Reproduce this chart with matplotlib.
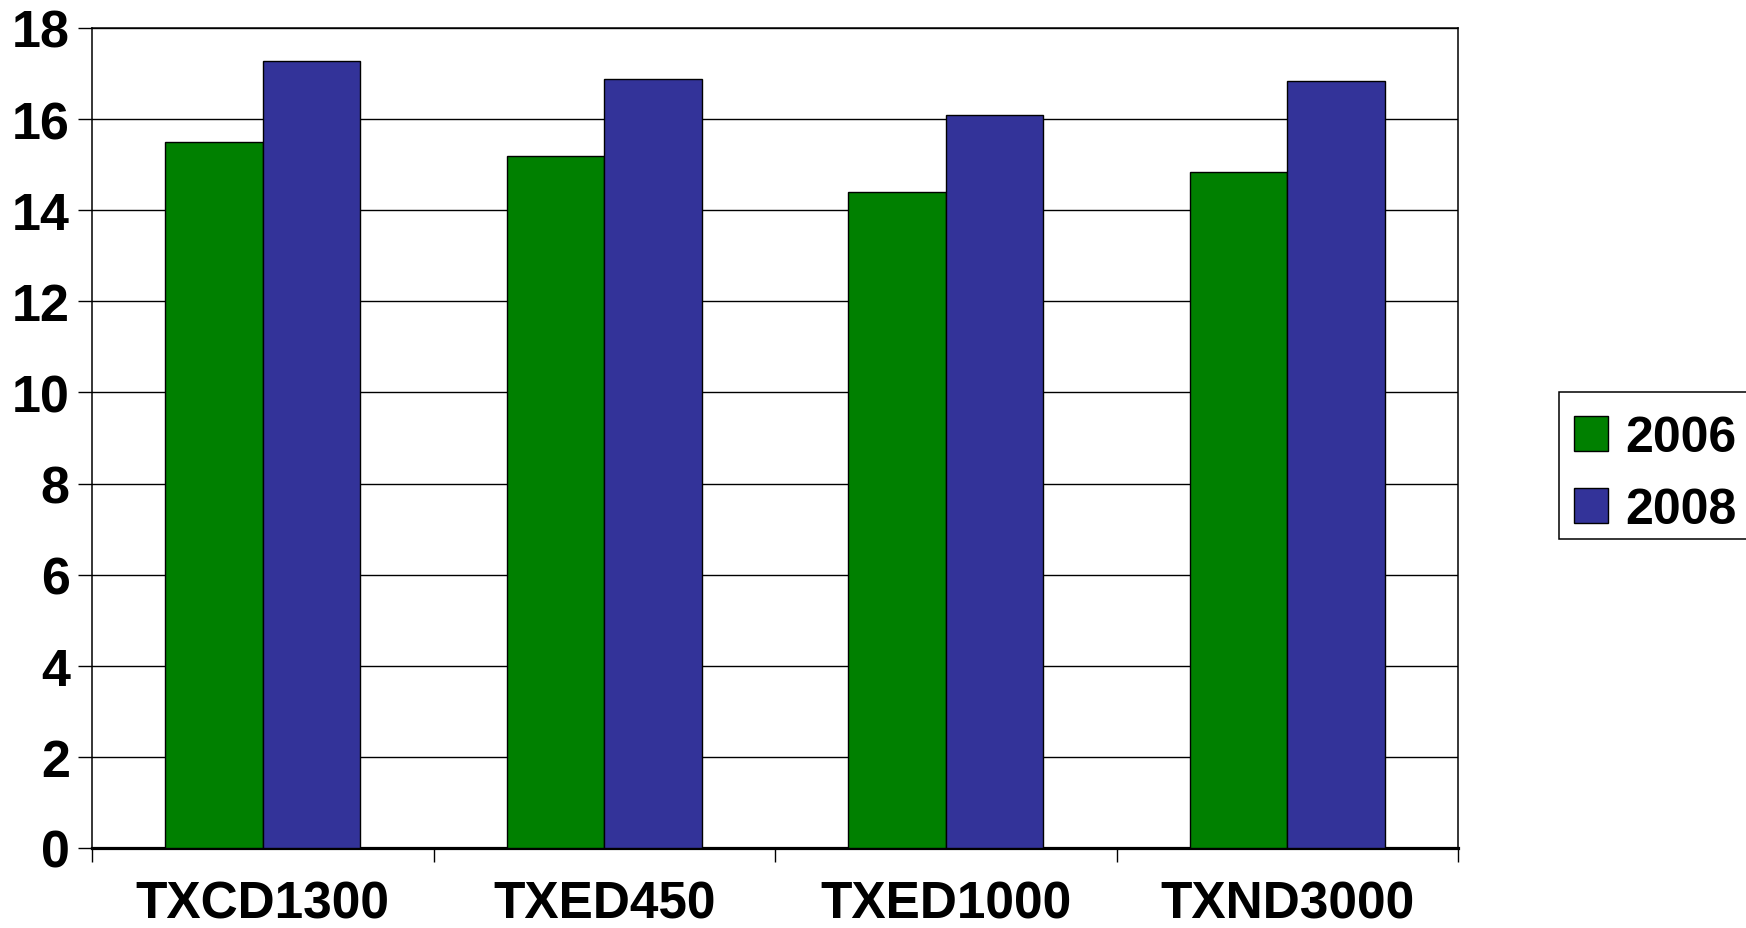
import matplotlib
matplotlib.use("Agg")
import matplotlib.pyplot as plt
import numpy as np
from matplotlib.ticker import FixedLocator
from matplotlib.patches import Rectangle
from matplotlib.transforms import IdentityTransform

categories = ["TXCD1300", "TXED450", "TXED1000", "TXND3000"]
series_names = ["2006", "2008"]
values_2006 = [15.49, 15.19, 14.39, 14.85]
values_2008 = [17.28, 16.87, 16.10, 16.83]
y_ticks = [0, 2, 4, 6, 8, 10, 12, 14, 16, 18]
colors = ["#008000", "#333399"]

plt.rcParams['font.family'] = ['Liberation Sans', 'DejaVu Sans']
plt.rcParams['font.weight'] = 'bold'

W, H = 1746, 929
fig = plt.figure(figsize=(W/100, H/100), dpi=100)
ax = fig.add_axes([92/W, 1-849/H, (1458-92)/W, (849-29)/H])

x = np.arange(len(categories))
w = 0.285
ax.bar(x - w/2, values_2006, w, color=colors[0], edgecolor='black', linewidth=1.0,
       label=series_names[0], zorder=3)
ax.bar(x + w/2, values_2008, w, color=colors[1], edgecolor='black', linewidth=1.0,
       label=series_names[1], zorder=3)

ax.set_xlim(-0.5, len(categories) - 0.5)
ax.set_ylim(0, 18)
ax.set_yticks(y_ticks)
ax.set_yticklabels([str(t) for t in y_ticks], fontsize=37.5, fontweight='bold')
ax.yaxis.grid(True, color='black', linewidth=1.0, zorder=0)
ax.set_axisbelow(True)

ax.xaxis.set_major_locator(FixedLocator(np.arange(len(categories) + 1) - 0.5))
ax.xaxis.set_major_formatter(plt.NullFormatter())
ax.xaxis.set_minor_locator(FixedLocator(x))
ax.set_xticklabels(categories, minor=True, fontsize=37, fontweight='bold')
ax.tick_params(axis='x', which='major', length=10, width=1.0, direction='out')
ax.tick_params(axis='x', which='minor', length=0, pad=23)
ax.tick_params(axis='y', which='major', length=10, width=1.0, direction='out', pad=6)

for s in ['top', 'right', 'left']:
    ax.spines[s].set_linewidth(1.1)
    ax.spines[s].set_color('black')
ax.spines['bottom'].set_linewidth(2.3)

# legend content (frame drawn separately to match reference box)
leg = fig.legend(loc='upper left', bbox_to_anchor=(1574/W, 1-416/H),
                 fontsize=36, frameon=False,
                 handlelength=0.68, handleheight=0.68, handletextpad=0.34,
                 borderpad=0.0, labelspacing=0.52, borderaxespad=0)
for t in leg.get_texts():
    t.set_fontweight('bold')

frame = Rectangle((1559, H-540), 400, 147, transform=IdentityTransform(),
                  facecolor='white', edgecolor='black', linewidth=1.1, zorder=-1)
fig.patches.append(frame)

fig.savefig("out.png", dpi=100)
